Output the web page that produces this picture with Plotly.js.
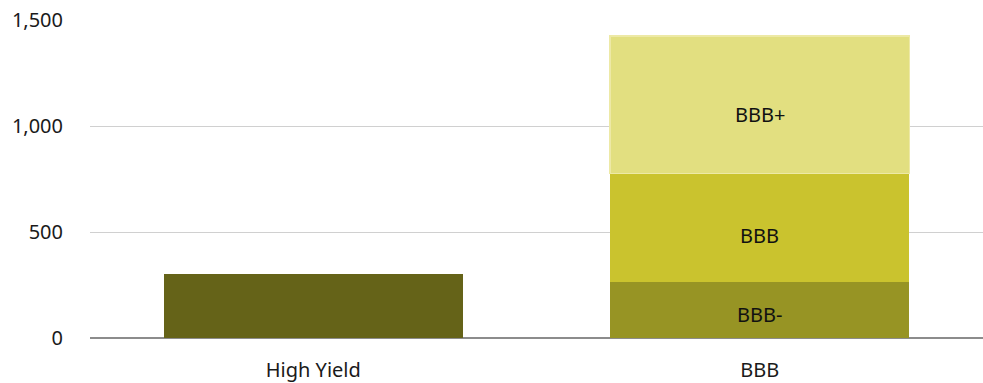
<!DOCTYPE html>
<html>
<head>
<meta charset="utf-8">
<script src="https://cdn.plot.ly/plotly-3.0.1.min.js"></script>
<style>html,body{margin:0;padding:0;background:#fff;}#chart{width:983px;height:383px;}</style>
</head>
<body>
<div id="chart"></div>
<script>
const categories = ['High Yield', 'BBB'];
const highYield = [300, null];
const bbbMinus = [null, 262];
const bbbMid = [null, 515];
const bbbPlus = [null, 647];
const segmentNames = ['BBB-', 'BBB', 'BBB+'];
const yTickVals = [0, 500, 1000, 1500];
const yTickText = ['0', '500', '1,000', '1,500'];

const colors = {hy: '#656318', minus: '#979424', mid: '#cac32e', plus: '#e2df80', plusLine: '#ede9a6'};
const font = 'Noto Sans, sans-serif';
const fs = 20;

const traces = [
  {type: 'bar', x: categories, y: highYield, name: 'High Yield', marker: {color: colors.hy}, hoverinfo: 'skip'},
  {type: 'bar', x: categories, y: bbbMinus, name: segmentNames[0], marker: {color: colors.minus}, hoverinfo: 'skip'},
  {type: 'bar', x: categories, y: bbbMid, name: segmentNames[1], marker: {color: colors.mid}, hoverinfo: 'skip'},
  {type: 'bar', x: categories, y: bbbPlus, name: segmentNames[2], marker: {color: colors.plus, line: {color: colors.plusLine, width: 1.5}}, hoverinfo: 'skip'}
];

const segVals = [bbbMinus[1], bbbMid[1], bbbPlus[1]];
const annotations = [];
let base = 0;
segVals.forEach((v, i) => {
  annotations.push({x: categories[1], y: base + v * 0.43, xref: 'x', yref: 'y', text: segmentNames[i], showarrow: false, font: {family: font, size: fs, color: '#111'}});
  base += v;
});

const layout = {
  width: 983, height: 383,
  margin: {l: 90, r: 0, t: 20, b: 45},
  paper_bgcolor: '#fff', plot_bgcolor: '#fff',
  barmode: 'stack', bargap: 0.33,
  showlegend: false,
  font: {family: font, size: fs, color: '#1a1a1a'},
  xaxis: {type: 'category', showgrid: false, zeroline: false, showline: false, ticks: 'outside', ticklen: 14, tickcolor: 'rgba(0,0,0,0)', tickfont: {family: font, size: fs, color: '#1a1a1a'}, fixedrange: true},
  yaxis: {range: [0, 1500], tickvals: yTickVals, ticktext: yTickText, showgrid: true, gridcolor: '#d0d0d0', gridwidth: 1, zeroline: true, zerolinecolor: '#8c8c8c', zerolinewidth: 2, showline: false, ticks: 'outside', ticklen: 22, tickcolor: 'rgba(0,0,0,0)', tickfont: {family: font, size: fs, color: '#1a1a1a'}, fixedrange: true},
  annotations: annotations
};

Plotly.newPlot('chart', traces, layout, {displayModeBar: false, staticPlot: true});
</script>
</body>
</html>
